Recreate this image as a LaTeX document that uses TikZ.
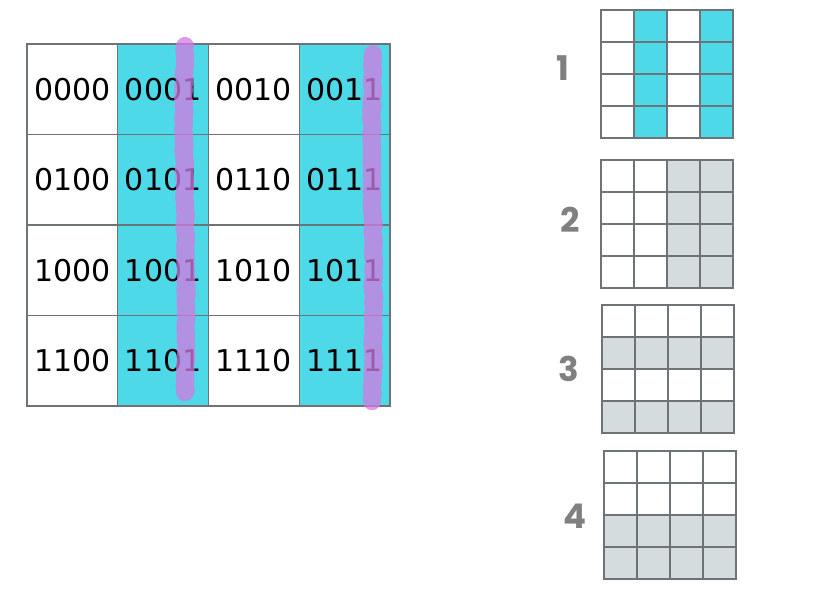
\documentclass[tikz,border=0pt]{standalone}
\usepackage{fontspec}
\setmainfont{Poppins}
\newfontfamily\cellfont{DejaVu Sans}
\usetikzlibrary{positioning, decorations.pathmorphing}
\definecolor{cyanCell}{RGB}{77,217,232}
\definecolor{grayCell}{RGB}{213,220,222}
\definecolor{gridLine}{RGB}{110,115,120}
\definecolor{markPurple}{RGB}{212,122,226}
\tikzset{
    objCell/.style={rectangle, minimum width=90.75pt, minimum height=90.5pt, inner sep=0pt, draw=gridLine, line width=1.2pt, font=\cellfont\fontsize{30}{30}\selectfont},
    objSmall/.style={rectangle, minimum width=33pt, minimum height=32pt, inner sep=0pt, draw=gridLine, line width=1.4pt},
    objLabel/.style={text=gray, font=\fontsize{34}{34}\selectfont\bfseries},
    marker/.style={markPurple, opacity=0.75, line width=18pt, line cap=round, line join=round, decorate, decoration={random steps, segment length=4pt, amplitude=0.9pt}}
}

\begin{document}
\begin{tikzpicture}[x=1pt, y=-1pt]
    \useasboundingbox (0,0) rectangle (820,591);

    % big grid
    \node (c11) [objCell] at (72.4,89.3) {0000};
    \node (c12) [objCell, fill=cyanCell] at (163.1,89.3) {0001};
    \node (c13) [objCell] at (253.9,89.3) {0010};
    \node (c14) [objCell, fill=cyanCell] at (344.6,89.3) {0011};
    \node (c21) [objCell] at (72.4,179.8) {0100};
    \node (c22) [objCell, fill=cyanCell] at (163.1,179.8) {0101};
    \node (c23) [objCell] at (253.9,179.8) {0110};
    \node (c24) [objCell, fill=cyanCell] at (344.6,179.8) {0111};
    \node (c31) [objCell] at (72.4,270.3) {1000};
    \node (c32) [objCell, fill=cyanCell] at (163.1,270.3) {1001};
    \node (c33) [objCell] at (253.9,270.3) {1010};
    \node (c34) [objCell, fill=cyanCell] at (344.6,270.3) {1011};
    \node (c41) [objCell] at (72.4,360.8) {1100};
    \node (c42) [objCell, fill=cyanCell] at (163.1,360.8) {1101};
    \node (c43) [objCell] at (253.9,360.8) {1110};
    \node (c44) [objCell, fill=cyanCell] at (344.6,360.8) {1111};

    % purple marks
    \draw [marker] (185,46) .. controls (181,160) and (189,260) .. (185,392);
    \draw [marker] (373,54) .. controls (369,170) and (377,290) .. (372,401);

    % small grids
    \foreach \c/\f in {1/white,2/cyanCell,3/white,4/cyanCell}
        \foreach \r in {1,...,4}
            \node (a\r\c) [objSmall, fill=\f] at ({601+33*(\c-0.5)},{10+32*(\r-0.5)}) {};
    \foreach \c/\f in {1/white,2/white,3/grayCell,4/grayCell}
        \foreach \r in {1,...,4}
            \node (b\r\c) [objSmall, fill=\f] at ({601+33*(\c-0.5)},{160+32*(\r-0.5)}) {};
    \foreach \r/\f in {1/white,2/grayCell,3/white,4/grayCell}
        \foreach \c in {1,...,4}
            \node (d\r\c) [objSmall, fill=\f] at ({602+33*(\c-0.5)},{305+32*(\r-0.5)}) {};
    \foreach \r/\f in {1/white,2/white,3/grayCell,4/grayCell}
        \foreach \c in {1,...,4}
            \node (e\r\c) [objSmall, fill=\f] at ({604+33*(\c-0.5)},{451+32*(\r-0.5)}) {};

    \node (n1) [objLabel] at (563,68) {1};
    \node (n2) [objLabel] at (570,220) {2};
    \node (n3) [objLabel] at (569,369) {3};
    \node (n4) [objLabel] at (575,516) {4};

\end{tikzpicture}
\end{document}
